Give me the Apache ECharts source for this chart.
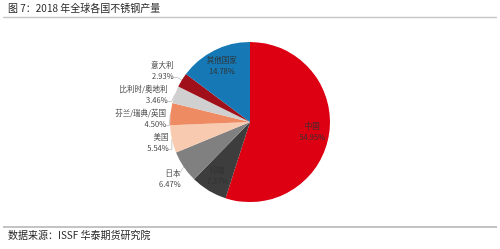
<!DOCTYPE html>
<html>
<head>
<meta charset="utf-8">
<style>
html, body { margin: 0; padding: 0; background: #fff; }
#chart { width: 500px; height: 249px; }
</style>
<script src="https://cdn.jsdelivr.net/npm/echarts@6/dist/echarts.min.js"></script>
</head>
<body>
<div id="chart"></div>
<script>
// 2018年全球各国不锈钢产量占比
var countries = ['中国', '印度', '日本', '美国', '芬兰/瑞典/英国', '比利时/奥地利', '意大利', '其他国家'];
var shares = [54.95, 7.37, 6.47, 5.54, 4.50, 3.46, 2.93, 14.78];
var colors = ['#DC0012', '#3D3D3D', '#808080', '#F8CBB0', '#EE8B62', '#D0D0D0', '#A0101A', '#1679B5'];
var insideNames = ['中国', '印度', '其他国家'];

var font = '"Noto Sans CJK SC", "Noto Sans", sans-serif';

function pct(p) { return p.name + '\n' + shares[p.dataIndex].toFixed(2) + '%'; }

var pieData = countries.map(function (c, i) {
	var inside = insideNames.indexOf(c) >= 0;
	return {
		name: c,
		value: shares[i],
		itemStyle: { color: colors[i] },
		label: { show: !inside },
		labelLine: { show: !inside }
	};
});

// 只用来放置扇区内部标签的透明饼图
var labelData = countries.map(function (c, i) {
	var inside = insideNames.indexOf(c) >= 0;
	return {
		name: c,
		value: shares[i],
		label: { show: inside }
	};
});

var chart = echarts.init(document.getElementById('chart'));

var option = {
	animation: false,
	graphic: [
		{
			type: 'text', left: 8, top: 3,
			style: { text: '图 7：2018 年全球各国不锈钢产量', font: '10px ' + font, fill: '#222' }
		},
		{
			type: 'line', shape: { x1: 3, y1: 17.5, x2: 497, y2: 17.5 },
			style: { stroke: '#c8c8c8', lineWidth: 1.5 }
		},
		{
			type: 'line', shape: { x1: 3, y1: 227, x2: 497, y2: 227 },
			style: { stroke: '#c4c4c4', lineWidth: 2 }
		},
		{
			type: 'text', left: 8, top: 230,
			style: { text: '数据来源：ISSF 华泰期货研究院', font: '10px ' + font, fill: '#222' }
		}
	],
	series: [
		{
			type: 'pie',
			center: [250, 122],
			radius: 80,
			startAngle: 90,
			clockwise: true,
			data: pieData,
			label: {
				position: 'outside',
				formatter: pct,
				fontFamily: font,
				fontSize: 7.5,
				lineHeight: 11,
				color: '#404040',
				align: 'center'
			},
			labelLine: {
				length: 5,
				length2: 4,
				lineStyle: { color: '#c8c8c8', width: 1 }
			},
			// 上半部分标签略微上移，下方的标签下移
			labelLayout: function (p) {
				var mid = p.labelRect.y + p.labelRect.height / 2;
				return mid < 160 ? { dx: 5, dy: -7 } : { dx: 10, dy: 5 };
			}
		},
		{
			type: 'pie',
			silent: true,
			center: [250, 122],
			radius: 120,
			startAngle: 90,
			clockwise: true,
			data: labelData,
			itemStyle: { color: 'rgba(0,0,0,0)' },
			label: {
				position: 'inside',
				formatter: pct,
				fontFamily: font,
				fontSize: 7.5,
				lineHeight: 11,
				color: '#303030'
			},
			labelLine: { show: false }
		}
	]
};
chart.setOption(option);
</script>
</body>
</html>
